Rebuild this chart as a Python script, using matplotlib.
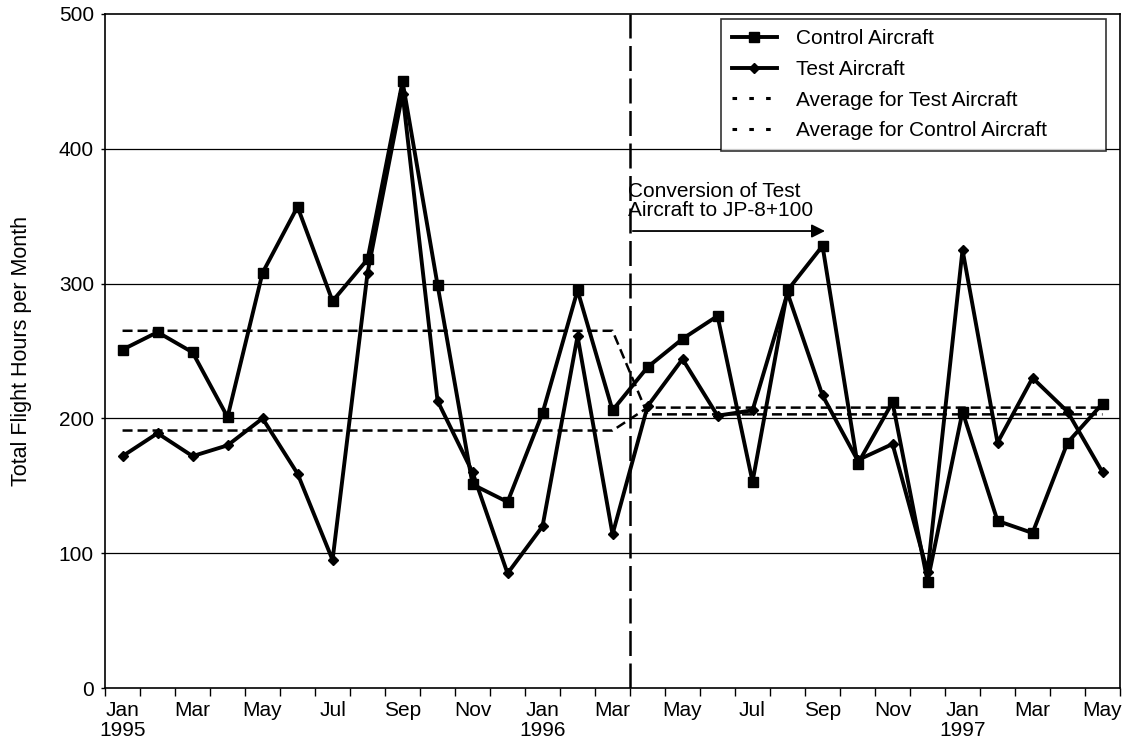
import numpy as np
import matplotlib.pyplot as plt
from matplotlib.lines import Line2D

plt.rcParams['font.family'] = ['Liberation Sans', 'DejaVu Sans']

# meses Jan 1995 .. May 1997
months = ['Jan', 'Feb', 'Mar', 'Apr', 'May', 'Jun', 'Jul', 'Aug', 'Sep', 'Oct', 'Nov', 'Dec',
          'Jan', 'Feb', 'Mar', 'Apr', 'May', 'Jun', 'Jul', 'Aug', 'Sep', 'Oct', 'Nov', 'Dec',
          'Jan', 'Feb', 'Mar', 'Apr', 'May']
years = {0: '1995', 12: '1996', 24: '1997'}

control = [251, 264, 249, 201, 308, 357, 287, 318, 450, 299, 151, 138, 204, 295, 206,
           238, 259, 276, 153, 295, 328, 166, 212, 79, 205, 124, 115, 182, 211]
test = [172, 189, 172, 180, 200, 159, 95, 308, 441, 213, 160, 85, 120, 261, 114,
        209, 244, 202, 206, 293, 217, 169, 181, 86, 325, 182, 230, 205, 160]

# promedios antes / despues de la conversion
avg_test = [191] * 15 + [208] * 14
avg_control = [265] * 15 + [203] * 14

x = np.arange(len(months))
fs = 15

fig = plt.figure(figsize=(11.26, 7.48), dpi=100)
ax = fig.add_axes([0.0933, 0.0802, 0.9014, 0.9011])

for v in [100, 200, 300, 400]:
    ax.axhline(v, color='black', lw=0.9, zorder=1)

avg_ls = (0, (4, 2))
ax.plot(x, avg_test, color='black', lw=1.8, ls=avg_ls, zorder=2)
ax.plot(x, avg_control, color='black', lw=1.8, ls=avg_ls, zorder=2)
ax.plot(x, control, color='black', lw=2.8, marker='s', ms=7, zorder=4)
ax.plot(x, test, color='black', lw=2.8, marker='D', ms=5, zorder=3)

# linea de conversion
ax.axvline(14.5, color='black', lw=1.8, ls=(0, (10, 3)), zorder=5)
ax.annotate('', xy=(20.15, 339), xytext=(14.5, 339),
            arrowprops=dict(arrowstyle='-|>', color='black', lw=1.3, mutation_scale=20))
ax.text(14.45, 347, 'Conversion of Test\nAircraft to JP-8+100', fontsize=fs,
        ha='left', va='bottom', linespacing=1.0)

ax.set_xlim(-0.5, 28.5)
ax.set_ylim(0, 500)
ax.set_yticks([0, 100, 200, 300, 400, 500])
ax.tick_params(axis='y', labelsize=fs, length=3, width=1, pad=5)
ax.set_ylabel('Total Flight Hours per Month', fontsize=15.5, labelpad=19)

ax.set_xticks(np.arange(-0.5, 29, 1))
ax.set_xticklabels([])
ax.tick_params(axis='x', which='major', length=6, width=1)
ax.set_xticks(x[::2], minor=True)
ax.set_xticklabels([months[i] + ('\n' + years[i] if i in years else '') for i in x[::2]],
                   minor=True, fontsize=fs, va='top', linespacing=1.1)
ax.tick_params(axis='x', which='minor', length=0, pad=9)

for s in ax.spines.values():
    s.set_linewidth(1.2)

handles = [
    Line2D([], [], color='black', lw=2.8, marker='s', ms=7),
    Line2D([], [], color='black', lw=2.8, marker='D', ms=5),
    Line2D([], [], color='black', lw=2.2, ls=(0, (1.5, 4))),
    Line2D([], [], color='black', lw=2.2, ls=(0, (1.5, 4))),
]
labels = ['Control Aircraft', 'Test Aircraft', 'Average for Test Aircraft',
          'Average for Control Aircraft']
leg = ax.legend(handles, labels, loc='upper left', bbox_to_anchor=(0.607, 0.5, 0.379, 0.4926),
                mode='expand', fontsize=fs, frameon=True, fancybox=False, edgecolor='black',
                handlelength=2.2, handletextpad=0.9, labelspacing=0.56, borderpad=0.5,
                borderaxespad=0)
leg.get_frame().set_linewidth(1.2)

fig.savefig('out.png', dpi=100)
